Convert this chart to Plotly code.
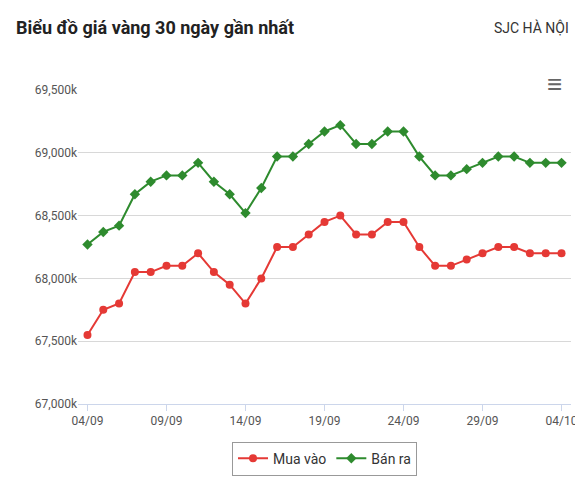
import plotly.graph_objects as go

dates = ["04/09","05/09","06/09","07/09","08/09","09/09","10/09","11/09","12/09","13/09","14/09",
         "15/09","16/09","17/09","18/09","19/09","20/09","21/09","22/09","23/09","24/09","25/09",
         "26/09","27/09","28/09","29/09","30/09","01/10","02/10","03/10","04/10"]
mua_vao = [67550,67750,67800,68050,68050,68100,68100,68200,68050,67950,67800,
           68000,68250,68250,68350,68450,68500,68350,68350,68450,68450,68250,
           68100,68100,68150,68200,68250,68250,68200,68200,68200]
ban_ra = [68270,68370,68420,68670,68770,68820,68820,68920,68770,68670,68520,
          68720,68970,68970,69070,69170,69220,69070,69070,69170,69170,68970,
          68820,68820,68870,68920,68970,68970,68920,68920,68920]
tick_labels = ["04/09","09/09","14/09","19/09","24/09","29/09","04/10"]
y_ticks = [67000,67500,68000,68500,69000,69500]

fig = go.Figure()
fig.add_trace(go.Scatter(x=list(range(len(dates))), y=mua_vao, name="Mua vào", mode="lines+markers",
                         line=dict(color="#e53935", width=2), marker=dict(symbol="circle", size=8, color="#e53935")))
fig.add_trace(go.Scatter(x=list(range(len(dates))), y=ban_ra, name="Bán ra", mode="lines+markers",
                         line=dict(color="#2e8b2e", width=2), marker=dict(symbol="diamond", size=8, color="#2e8b2e")))
fig.update_layout(
    width=583, height=480, paper_bgcolor="white", plot_bgcolor="white",
    margin=dict(l=70, r=20, t=82, b=64),
    font=dict(family="Roboto, Arial", color="#555", size=12),
    xaxis=dict(range=[-0.6, 30.6], tickvals=[dates.index(t) for t in tick_labels], ticktext=tick_labels,
               showgrid=False, showline=True, linecolor="#ccd6eb", ticks="outside", ticklen=6, tickcolor="#ccd6eb",
               zeroline=False),
    yaxis=dict(range=[67000, 69500], tickvals=y_ticks, ticktext=[f"{v:,}k" for v in y_ticks],
               showgrid=True, gridcolor="#d8d8d8", zeroline=False),
    legend=dict(orientation="h", x=0.5, xanchor="center", y=-0.12, yanchor="top",
                bordercolor="#999", borderwidth=1, font=dict(size=14, color="#333")),
    showlegend=True,
)
fig.add_annotation(text="<b>Biểu đồ giá vàng 30 ngày gần nhất</b>", xref="paper", yref="paper",
                   x=-0.13, y=1.2, xanchor="left", yanchor="middle", showarrow=False,
                   font=dict(size=18, color="#222"))
fig.add_annotation(text="SJC HÀ NỘI", xref="paper", yref="paper", x=1.0, y=1.2,
                   xanchor="right", yanchor="middle", showarrow=False, font=dict(size=14, color="#333"))
fig.add_annotation(text="<b>≡</b>", xref="paper", yref="paper", x=0.985, y=1.02,
                   xanchor="right", yanchor="middle", showarrow=False, font=dict(size=26, color="#666"))
fig.write_html("out.html")
